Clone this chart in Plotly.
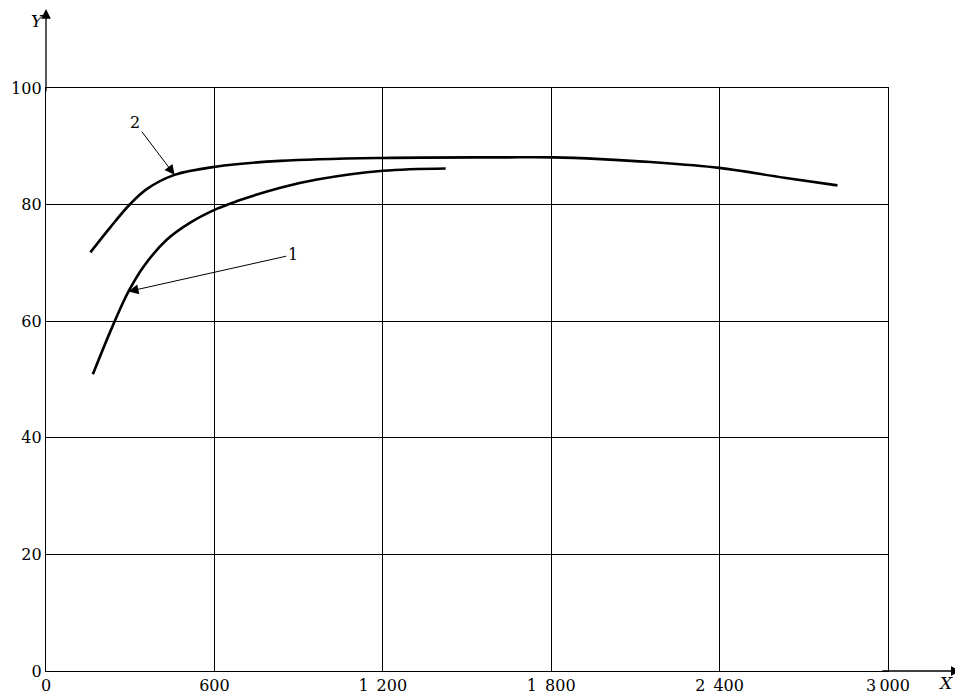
import plotly.graph_objects as go

# Curve 1 (X, Y)
curve1_x = [167, 235, 294, 348, 431, 514, 610, 681, 835, 966, 1201, 1424]
curve1_y = [50.9, 58.9, 65.1, 69.4, 74.0, 76.9, 79.3, 80.6, 82.9, 84.3, 85.8, 86.2]
# Curve 2 (X, Y)
curve2_x = [158, 229, 300, 360, 458, 604, 835, 1201, 1620, 1810, 1976, 2154, 2398, 2630, 2820]
curve2_y = [71.8, 76.1, 80.1, 82.7, 85.1, 86.5, 87.5, 88.0, 88.1, 88.1, 87.8, 87.3, 86.3, 84.6, 83.3]

x_ticks = [0, 600, 1200, 1800, 2400, 3000]
x_ticktext = ["0", "600", "1\u2002200", "1\u2002800", "2\u2002400", "3\u2009000"]
y_ticks = [0, 20, 40, 60, 80, 100]
y_ticktext = ["0", "20", "40", "60", "80", "100"]

# callouts: label, head (on curve), tail (label position)
callout_labels = ["1", "2"]
callout_head_x = [294, 458]
callout_head_y = [65.1, 85.1]
callout_tail_x = [879, 318]
callout_tail_y = [71.4, 94.0]

FONT = "DejaVu Serif"

fig = go.Figure()
for xs, ys in [(curve1_x, curve1_y), (curve2_x, curve2_y)]:
    fig.add_trace(go.Scatter(x=xs, y=ys, mode="lines",
                             line=dict(color="black", width=2.6, shape="spline", smoothing=1.0),
                             showlegend=False, hoverinfo="skip"))

for lab, hx, hy, tx, ty in zip(callout_labels, callout_head_x, callout_head_y, callout_tail_x, callout_tail_y):
    fig.add_annotation(x=hx, y=hy, ax=tx, ay=ty, xref="x", yref="y", axref="x", ayref="y",
                       text=lab, showarrow=True, arrowhead=2, arrowsize=2, arrowwidth=1,
                       arrowcolor="black", font=dict(family=FONT, size=16, color="black"))

# axis arrows
fig.add_annotation(x=1.0864, y=0, xref="paper", yref="paper", ax=-80, ay=0,
                   text="", showarrow=True, arrowhead=2, arrowsize=1.5, arrowwidth=1.3, arrowcolor="black")
fig.add_annotation(x=0, y=1.1377, xref="paper", yref="paper", ax=0, ay=85,
                   text="", showarrow=True, arrowhead=2, arrowsize=1.5, arrowwidth=1.3, arrowcolor="black")
# axis titles
fig.add_annotation(x=-0.02, y=1.136, xref="paper", yref="paper", text="<i>Y</i>", showarrow=False,
                   font=dict(family=FONT, size=17, color="black"))
fig.add_annotation(x=1.079, y=-0.042, xref="paper", yref="paper", text="<i>X</i>", showarrow=False,
                   font=dict(family=FONT, size=17, color="black"))

fig.update_xaxes(range=[0, 3000], tickvals=x_ticks, ticktext=x_ticktext, showgrid=True,
                 gridcolor="black", gridwidth=1, showline=True, linecolor="black", linewidth=1.3,
                 mirror=True, ticks="", zeroline=False,
                 tickfont=dict(family=FONT, size=16, color="black"))
fig.update_yaxes(range=[0, 100], tickvals=y_ticks, ticktext=y_ticktext, showgrid=True,
                 gridcolor="black", gridwidth=1, showline=True, linecolor="black", linewidth=1.3,
                 mirror=True, ticks="", zeroline=False,
                 tickfont=dict(family=FONT, size=16, color="black"))

# page body has an 8px margin, so the figure is sized to fit the window
fig.update_layout(width=955, height=689, plot_bgcolor="white", paper_bgcolor="white",
                  margin=dict(l=38, r=75, t=80, b=26, autoexpand=False))

fig.write_html("out.html")
